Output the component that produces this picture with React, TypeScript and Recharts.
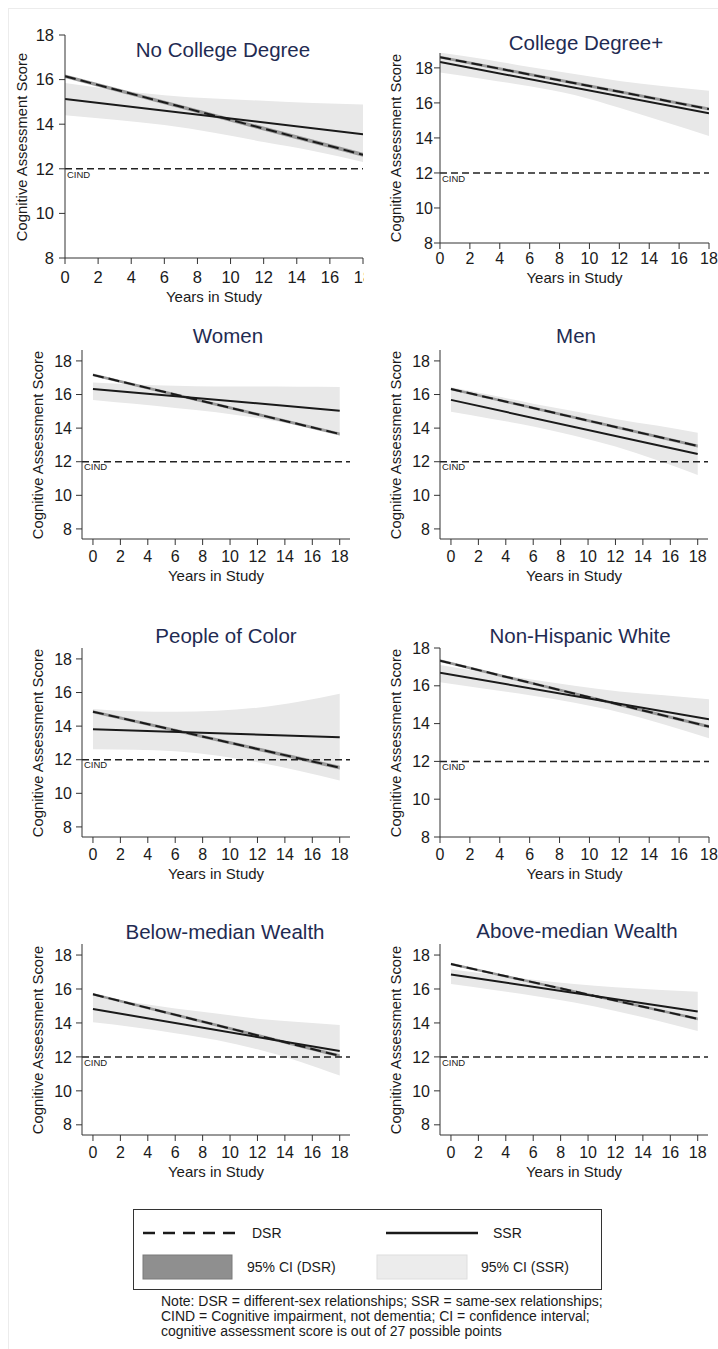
import React from "react";
import { ComposedChart, Area, Line, XAxis, YAxis, ReferenceLine } from "recharts";

const years = [0, 3, 6, 9, 12, 15, 18];
const xTicks = [0, 2, 4, 6, 8, 10, 12, 14, 16, 18];
const yTicks = [8, 10, 12, 14, 16, 18];
const cindScore = 12;

// Lines are straight: values at year 0 and year 18
// No College Degree
const noCollegeDsr = [16.15, 12.63];
const noCollegeDsrCi = [[16.07, 16.23], [12.54, 12.72]];
const noCollegeSsr = [15.13, 13.55];
const noCollegeCiLow = [14.4, 14.2, 13.96, 13.62, 13.2, 12.8, 12.3];
const noCollegeCiHigh = [15.85, 15.55, 15.3, 15.15, 15.05, 14.95, 14.88];

// College Degree+
const collegeDsr = [18.61, 15.65];
const collegeDsrCi = [[18.53, 18.69], [15.56, 15.74]];
const collegeSsr = [18.33, 15.41];
const collegeCiLow = [17.73, 17.35, 16.95, 16.45, 15.72, 14.92, 14.11];
const collegeCiHigh = [18.87, 18.5, 18.05, 17.65, 17.25, 16.95, 16.7];

// Women
const womenDsr = [17.17, 13.65];
const womenDsrCi = [[17.09, 17.25], [13.56, 13.74]];
const womenSsr = [16.33, 15.04];
const womenCiLow = [15.68, 15.45, 15.2, 14.95, 14.6, 14.15, 13.6];
const womenCiHigh = [16.72, 16.6, 16.52, 16.48, 16.47, 16.46, 16.45];

// Men
const menDsr = [16.33, 12.94];
const menDsrCi = [[16.25, 16.41], [12.85, 13.03]];
const menSsr = [15.68, 12.46];
const menCiLow = [14.98, 14.55, 14.1, 13.55, 12.9, 12.1, 11.21];
const menCiHigh = [16.43, 15.95, 15.45, 15.0, 14.55, 14.15, 13.73];

// People of Color
const pocDsr = [14.86, 11.53];
const pocDsrCi = [[14.77, 14.95], [11.42, 11.64]];
const pocSsr = [13.82, 13.34];
const pocCiLow = [12.63, 12.6, 12.5, 12.25, 11.85, 11.35, 10.76];
const pocCiHigh = [15.02, 14.88, 14.85, 14.92, 15.1, 15.45, 15.92];

// Non-Hispanic White
const whiteDsr = [17.33, 13.84];
const whiteDsrCi = [[17.26, 17.4], [13.76, 13.92]];
const whiteSsr = [16.69, 14.23];
const whiteCiLow = [16.19, 15.85, 15.5, 15.1, 14.6, 13.95, 13.22];
const whiteCiHigh = [17.1, 16.7, 16.35, 16.0, 15.7, 15.5, 15.29];

// Below-median Wealth
const belowDsr = [15.69, 12.06];
const belowDsrCi = [[15.61, 15.77], [11.97, 12.15]];
const belowSsr = [14.82, 12.35];
const belowCiLow = [14.04, 13.75, 13.4, 13.0, 12.45, 11.75, 10.9];
const belowCiHigh = [15.6, 15.2, 14.85, 14.55, 14.25, 14.05, 13.88];

// Above-median Wealth
const aboveDsr = [17.47, 14.24];
const aboveDsrCi = [[17.4, 17.54], [14.16, 14.32]];
const aboveSsr = [16.86, 14.67];
const aboveCiLow = [16.29, 15.95, 15.6, 15.2, 14.7, 14.15, 13.53];
const aboveCiHigh = [17.16, 16.85, 16.55, 16.3, 16.1, 15.95, 15.84];

const FONT = '"Liberation Sans", Arial, Helvetica, sans-serif';
const INK = "#1a1a1a";
const TITLE_COLOR = "#1f2b52";
const Y_AXIS_W = 44;
const TOP_PAD = 10;
const RIGHT_PAD = 10;
const BOTTOM_PAD = 6;

function buildRows(dsr, dsrCi, ssr, ciLow, ciHigh) {
  const last = years.length - 1;
  return years.map((year, i) => {
    const end = i === 0 ? 0 : i === last ? 1 : -1;
    return {
      year,
      ssrCi: [ciLow[i], ciHigh[i]],
      dsrCi: end >= 0 ? dsrCi[end] : null,
      dsr: end >= 0 ? dsr[end] : null,
      ssr: end >= 0 ? ssr[end] : null,
    };
  });
}

const stataX = [-0.8, 18.75];

const panels = [
  {
    title: "No College Degree", rows: buildRows(noCollegeDsr, noCollegeDsrCi, noCollegeSsr, noCollegeCiLow, noCollegeCiHigh),
    plotLeft: 65, plotTop: 35, plotW: 298, plotH: 223, xDomain: [0, 18], yDomain: [8, 18],
    titleX: 223, titleY: 50, yTitleX: 22, tickFont: 16.5, xAxisH: 44, xTickMargin: 7, yTickMargin: 5, clipW: 364 - 65 + Y_AXIS_W,
  },
  {
    title: "College Degree+", rows: buildRows(collegeDsr, collegeDsrCi, collegeSsr, collegeCiLow, collegeCiHigh),
    plotLeft: 440, plotTop: 53, plotW: 269, plotH: 190, xDomain: [0, 18], yDomain: [8, 18.85],
    titleX: 586, titleY: 43, yTitleX: 396, tickFont: 16, xAxisH: 40, xTickMargin: 4, yTickMargin: 1,
  },
  {
    title: "Women", rows: buildRows(womenDsr, womenDsrCi, womenSsr, womenCiLow, womenCiHigh),
    plotLeft: 82, plotTop: 350, plotW: 268, plotH: 189, xDomain: stataX, yDomain: [7.4, 18.65],
    titleX: 228, titleY: 336, yTitleX: 38, tickFont: 16, xAxisH: 42, xTickMargin: 6, yTickMargin: 4,
  },
  {
    title: "Men", rows: buildRows(menDsr, menDsrCi, menSsr, menCiLow, menCiHigh),
    plotLeft: 440, plotTop: 350, plotW: 268, plotH: 189, xDomain: stataX, yDomain: [7.4, 18.65],
    titleX: 576, titleY: 336, yTitleX: 396, tickFont: 16, xAxisH: 42, xTickMargin: 6, yTickMargin: 4,
  },
  {
    title: "People of Color", rows: buildRows(pocDsr, pocDsrCi, pocSsr, pocCiLow, pocCiHigh),
    plotLeft: 82, plotTop: 648, plotW: 268, plotH: 189, xDomain: stataX, yDomain: [7.4, 18.65],
    titleX: 226, titleY: 636, yTitleX: 38, tickFont: 16, xAxisH: 42, xTickMargin: 6, yTickMargin: 4,
  },
  {
    title: "Non-Hispanic White", rows: buildRows(whiteDsr, whiteDsrCi, whiteSsr, whiteCiLow, whiteCiHigh),
    plotLeft: 440, plotTop: 648, plotW: 269, plotH: 189, xDomain: [0, 18], yDomain: [8, 18],
    titleX: 580, titleY: 636, yTitleX: 396, tickFont: 16, xAxisH: 42, xTickMargin: 6, yTickMargin: 4,
  },
  {
    title: "Below-median Wealth", rows: buildRows(belowDsr, belowDsrCi, belowSsr, belowCiLow, belowCiHigh),
    plotLeft: 82, plotTop: 944, plotW: 268, plotH: 191, xDomain: stataX, yDomain: [7.4, 18.65],
    titleX: 225, titleY: 932, yTitleX: 38, tickFont: 16, xAxisH: 42, xTickMargin: 6, yTickMargin: 4,
  },
  {
    title: "Above-median Wealth", rows: buildRows(aboveDsr, aboveDsrCi, aboveSsr, aboveCiLow, aboveCiHigh),
    plotLeft: 440, plotTop: 944, plotW: 268, plotH: 191, xDomain: stataX, yDomain: [7.4, 18.65],
    titleX: 577, titleY: 931, yTitleX: 396, tickFont: 16, xAxisH: 42, xTickMargin: 6, yTickMargin: 4,
  },
];

function Panel({ p }) {
  const chartW = Y_AXIS_W + p.plotW + RIGHT_PAD;
  const chartH = TOP_PAD + p.plotH + p.xAxisH + BOTTOM_PAD;
  return (
    <>
      <div
        style={{
          position: "absolute",
          left: p.plotLeft - Y_AXIS_W,
          top: p.plotTop - TOP_PAD,
          width: p.clipW ?? chartW,
          height: chartH,
          overflow: "hidden",
        }}
      >
        <ComposedChart
          width={chartW}
          height={chartH}
          data={p.rows}
          margin={{ top: TOP_PAD, right: RIGHT_PAD, bottom: BOTTOM_PAD, left: 0 }}
        >
          <XAxis
            type="number"
            dataKey="year"
            domain={p.xDomain}
            ticks={xTicks}
            interval={0}
            allowDataOverflow
            height={p.xAxisH}
            stroke="#333"
            tickSize={6}
            tickMargin={p.xTickMargin}
            tick={{ fontSize: p.tickFont, fill: INK, fontFamily: FONT }}
            label={{ value: "Years in Study", position: "insideBottom", offset: 0, fontSize: 15, fill: INK, fontFamily: FONT }}
          />
          <YAxis
            type="number"
            domain={p.yDomain}
            ticks={yTicks}
            interval={0}
            allowDataOverflow
            width={Y_AXIS_W}
            stroke="#333"
            tickSize={6}
            tickMargin={p.yTickMargin}
            tick={{ fontSize: p.tickFont, fill: INK, fontFamily: FONT }}
          />
          <Area
            type="monotone"
            dataKey="ssrCi"
            stroke="none"
            fill="#e8e8e8"
            fillOpacity={1}
            isAnimationActive={false}
            dot={false}
            activeDot={false}
          />
          <Area
            type="linear"
            dataKey="dsrCi"
            stroke="none"
            fill="#9a9a9a"
            fillOpacity={1}
            connectNulls
            isAnimationActive={false}
            dot={false}
            activeDot={false}
          />
          <ReferenceLine
            y={cindScore}
            stroke="#222"
            strokeWidth={1.5}
            strokeDasharray="7 4"
            label={{ value: "CIND", position: "insideTopLeft", offset: 2, fontSize: 9.5, fill: INK, fontFamily: FONT }}
          />
          <Line
            type="linear"
            dataKey="ssr"
            stroke={INK}
            strokeWidth={2}
            connectNulls
            dot={false}
            activeDot={false}
            isAnimationActive={false}
          />
          <Line
            type="linear"
            dataKey="dsr"
            stroke={INK}
            strokeWidth={2}
            strokeDasharray="11 5"
            connectNulls
            dot={false}
            activeDot={false}
            isAnimationActive={false}
          />
        </ComposedChart>
      </div>
      <div
        style={{
          position: "absolute",
          left: p.titleX,
          top: p.titleY,
          transform: "translate(-50%, -50%)",
          fontSize: 20.5,
          lineHeight: 1,
          color: TITLE_COLOR,
          whiteSpace: "nowrap",
        }}
      >
        {p.title}
      </div>
      <div
        style={{
          position: "absolute",
          left: p.yTitleX,
          top: p.plotTop + p.plotH / 2,
          transform: "translate(-50%, -50%) rotate(-90deg)",
          fontSize: 14.8,
          lineHeight: 1,
          color: INK,
          whiteSpace: "nowrap",
        }}
      >
        Cognitive Assessment Score
      </div>
    </>
  );
}

function Legend() {
  const label = { position: "absolute", fontSize: 14, color: INK, lineHeight: 1, transform: "translateY(-50%)" } as const;
  return (
    <div
      style={{
        position: "absolute",
        left: 133,
        top: 1209,
        width: 469,
        height: 81,
        border: "1.5px solid #333",
        boxSizing: "border-box",
      }}
    >
      <svg width={466} height={78} style={{ position: "absolute", left: 0, top: 0 }}>
        <line x1={9} x2={103} y1={23} y2={23} stroke={INK} strokeWidth={2.5} strokeDasharray="12 8" />
        <line x1={252} x2={344} y1={23} y2={23} stroke={INK} strokeWidth={2.5} />
        <rect x={9} y={45} width={89} height={24} fill="#8f8f8f" stroke="#7a7a7a" />
        <rect x={243} y={45} width={90} height={24} fill="#ececec" stroke="#dedede" />
      </svg>
      <div style={{ ...label, left: 118, top: 23 }}>DSR</div>
      <div style={{ ...label, left: 359, top: 23 }}>SSR</div>
      <div style={{ ...label, left: 113, top: 57 }}>95% CI (DSR)</div>
      <div style={{ ...label, left: 347, top: 57 }}>95% CI (SSR)</div>
    </div>
  );
}

export default function App() {
  return (
    <div
      style={{
        position: "absolute",
        left: 0,
        top: 0,
        width: 718,
        height: 1349,
        background: "#fff",
        fontFamily: FONT,
        overflow: "hidden",
      }}
    >
      <div
        style={{
          position: "absolute",
          left: 8,
          top: 8,
          width: 720,
          height: 1360,
          borderTop: "1px solid #ececec",
          borderLeft: "1px solid #ececec",
        }}
      />
      {panels.map((p) => (
        <Panel key={p.title} p={p} />
      ))}
      <Legend />
      <div
        style={{
          position: "absolute",
          left: 161,
          top: 1294,
          fontSize: 14,
          lineHeight: "15px",
          color: INK,
          whiteSpace: "nowrap",
        }}
      >
        Note: DSR = different-sex relationships; SSR = same-sex relationships;
        <br />
        CIND = Cognitive impairment, not dementia; CI = confidence interval;
        <br />
        cognitive assessment score is out of 27 possible points
      </div>
    </div>
  );
}
